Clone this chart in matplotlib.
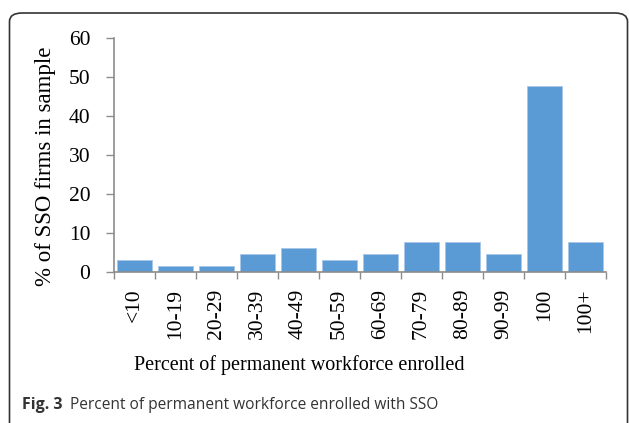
import matplotlib.pyplot as plt
from matplotlib.patches import FancyBboxPatch
import numpy as np

categories = ["<10", "10-19", "20-29", "30-39", "40-49", "50-59",
              "60-69", "70-79", "80-89", "90-99", "100", "100+"]
pct_firms = [3.1, 1.5, 1.5, 4.6, 6.2, 3.1, 4.6, 7.7, 7.7, 4.6, 47.7, 7.7]
y_ticks = [0, 10, 20, 30, 40, 50, 60]

serif = ["Liberation Serif", "DejaVu Serif"]
axis_gray = "#8c8c8c"

fig = plt.figure(figsize=(6.29, 4.23), dpi=100)

# rounded frame around the figure panel
frame = FancyBboxPatch((9.5 / 629, -0.02), 618 / 629, (423 - 13) / 423 + 0.02,
                       boxstyle="round,pad=0,rounding_size=0.02",
                       transform=fig.transFigure, fill=False,
                       edgecolor="#333333", linewidth=1.2, clip_on=False)
fig.patches.append(frame)

ax = fig.add_axes([114 / 629, 1 - 272 / 423, (606 - 114) / 629, (272 - 38) / 423])
x = np.arange(len(categories))
ax.bar(x, pct_firms, width=0.83, color="#5b9bd5", edgecolor="#a8c7e8",
       linewidth=0.6, zorder=2)

ax.set_xlim(-0.5, len(categories) - 0.5)
ax.set_ylim(0, 60)
ax.set_yticks(y_ticks)
ax.set_yticklabels([str(t) for t in y_ticks], fontfamily=serif, fontsize=15.5)

# x ticks at the category boundaries, labels at the centres
ax.set_xticks(np.arange(len(categories) + 1) - 0.5)
ax.set_xticklabels([])
ax.set_xticks(x, minor=True)
ax.set_xticklabels(categories, minor=True, rotation=90, fontfamily=serif,
                   fontsize=15.5, va="top", ha="center")
ax.tick_params(axis="x", which="minor", length=0, pad=12)
ax.tick_params(axis="x", which="major", length=5, color=axis_gray, width=1)
ax.tick_params(axis="y", length=6, color=axis_gray, width=1, pad=11)

for s in ["top", "right"]:
    ax.spines[s].set_visible(False)
for s in ["left", "bottom"]:
    ax.spines[s].set_color(axis_gray)
    ax.spines[s].set_linewidth(1.2)

ax.set_ylabel("% of SSO firms in sample", fontfamily=serif, fontsize=16.5,
              va="center")
ax.yaxis.set_label_coords(-0.14, 0.453)
fig.text(299 / 629, 1 - 365 / 423, "Percent of permanent workforce enrolled",
         fontfamily=serif, fontsize=14.5, ha="center", va="center")

fig.text(22 / 629, 1 - 405 / 423, "Fig. 3", fontfamily="Open Sans",
         fontweight="bold", fontsize=11.5, color="#333333", ha="left", va="center")
fig.text(70 / 629, 1 - 405 / 423, "Percent of permanent workforce enrolled with SSO",
         fontfamily="Open Sans", fontsize=11.2, color="#333333", ha="left", va="center")

fig.savefig("out.png", dpi=100)
